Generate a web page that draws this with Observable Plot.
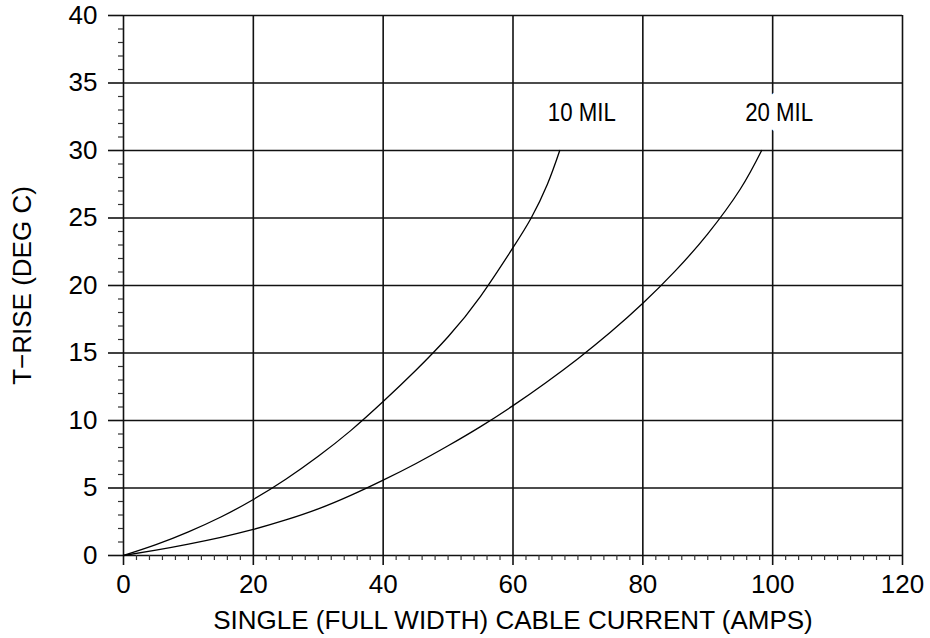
<!DOCTYPE html>
<html>
<head>
<meta charset="utf-8">
<script src="https://cdn.jsdelivr.net/npm/d3@7"></script>
<script src="https://cdn.jsdelivr.net/npm/@observablehq/plot@0.6"></script>
<style>
  html, body { margin: 0; padding: 0; background: #fff; }
  #chart svg { display: block; }
</style>
</head>
<body>
<div id="chart"></div>
<script>
// ---- data ----
const mil10X = [0, 5, 10, 15, 20, 25, 30, 35, 40, 45, 50, 55, 60, 62.8, 65.3, 67.2];
const mil10Y = [0, 0.8, 1.75, 2.85, 4.15, 5.65, 7.35, 9.25, 11.4, 13.7, 16.2, 19.2, 22.8, 25, 27.5, 30];
const mil20X = [0, 5, 10, 15, 20, 25, 30, 35, 40, 45, 50, 55, 60, 65, 70, 75, 80, 85, 90, 95, 98.3];
const mil20Y = [0, 0.4, 0.85, 1.35, 1.93, 2.63, 3.45, 4.45, 5.58, 6.8, 8.13, 9.55, 11.1, 12.78, 14.58, 16.53, 18.68, 21.08, 23.83, 27.13, 30];
const seriesNames = ["10 MIL", "20 MIL"];
const labelX = [70.6, 101];
const labelY = [32.8, 32.8];
const xMajor = [0, 20, 40, 60, 80, 100, 120];
const xMinor = d3.range(0, 121, 2).filter(v => v % 20 !== 0);
const yMajor = [0, 5, 10, 15, 20, 25, 30, 35, 40];
const yMinor = d3.range(0, 41, 1).filter(v => v % 5 !== 0);
const xTitle = "SINGLE (FULL WIDTH) CABLE CURRENT (AMPS)";
const yTitle = "T\u2212RISE (DEG C)";

const rows = [
  ...mil10X.map((x, i) => ({series: seriesNames[0], x, y: mil10Y[i]})),
  ...mil20X.map((x, i) => ({series: seriesNames[1], x, y: mil20Y[i]}))
];
const labels = seriesNames.map((s, i) => ({text: s, x: labelX[i], y: labelY[i]}));

const font = "'Liberation Sans', Arial, Helvetica, sans-serif";

const chart = Plot.plot({
  width: 930,
  height: 638,
  marginLeft: 123,
  marginRight: 28,
  marginTop: 15,
  marginBottom: 83,
  style: {fontFamily: font, fontSize: "26px", color: "#000", background: "#fff"},
  x: {domain: [0, 120], axis: null},
  y: {domain: [0, 40], axis: null},
  marks: [
    Plot.ruleX(xMajor, {stroke: "#111", strokeWidth: 1.6}),
    Plot.ruleY(yMajor, {stroke: "#111", strokeWidth: 1.6}),
    Plot.axisY(yMajor, {anchor: "left", tickSize: 15, tickPadding: 11, fontSize: 26, stroke: "#111", strokeWidth: 1.6, label: null}),
    Plot.axisY(yMinor, {anchor: "left", tickSize: 5, tickFormat: () => "", stroke: "#333", strokeWidth: 1.2, label: null}),
    Plot.axisX(xMajor, {anchor: "bottom", tickSize: 10, tickPadding: 9, fontSize: 26, stroke: "#111", strokeWidth: 1.6, label: null}),
    Plot.axisX(xMinor, {anchor: "bottom", tickSize: 5, tickFormat: () => "", stroke: "#333", strokeWidth: 1.2, label: null}),
    Plot.line(rows, {x: "x", y: "y", z: "series", curve: "natural", stroke: "#000", strokeWidth: 1.3}),
    Plot.text(labels, {x: "x", y: "y", text: "text", fontSize: 26, fill: "#000",
      stroke: "white", strokeWidth: 22, strokeLinejoin: "round", textAnchor: "middle", lineAnchor: "middle"}),
    Plot.text([xTitle], {text: d => d, frameAnchor: "bottom", dy: 65, lineAnchor: "middle", textAnchor: "middle", fontSize: 26, fill: "#000"}),
    Plot.text([yTitle], {text: d => d, frameAnchor: "left", dx: -101, rotate: -90, lineAnchor: "middle", textAnchor: "middle", fontSize: 26, fill: "#000"})
  ]
});
// condensed look for the curve labels
d3.select(chart).selectAll("text")
  .filter(function () { return seriesNames.includes(this.textContent); })
  .attr("textLength", 68)
  .attr("lengthAdjust", "spacingAndGlyphs");
document.getElementById("chart").appendChild(chart);
</script>
</body>
</html>
